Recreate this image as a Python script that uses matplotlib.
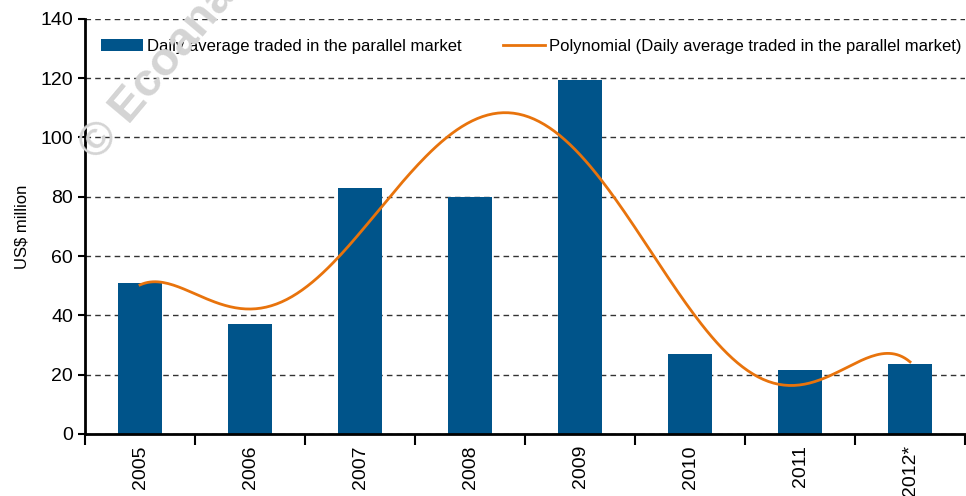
import numpy as np
import matplotlib
matplotlib.use('Agg')
import matplotlib.pyplot as plt

plt.rcParams['font.family'] = ['Liberation Sans', 'DejaVu Sans']

# Data
years = ['2005', '2006', '2007', '2008', '2009', '2010', '2011', '2012*']
dailyAverage = [51.0, 37.1, 83.0, 80.0, 119.4, 27.0, 21.6, 23.6]

BAR_COLOR = '#00548A'
LINE_COLOR = '#E8730C'

fig = plt.figure(figsize=(9.66, 4.96), dpi=100)
ax = fig.add_axes([0.088, 0.125, 0.911, 0.837])

# watermark
fig.text(0.075, 0.68, '© Ecoanalitica', rotation=50, fontsize=34,
         fontweight='bold', color='#D4D4D4', zorder=0)
ax.patch.set_alpha(0)

pos = np.arange(len(years))
bars = ax.bar(pos, dailyAverage, width=0.4, color=BAR_COLOR, zorder=2,
              label='Daily average traded in the parallel market')

# Excel style polynomial trendline (order 6) of the bar values
coef = np.polyfit(pos, dailyAverage, 6)
xs = np.linspace(pos[0], pos[-1], 300)
line, = ax.plot(xs, np.polyval(coef, xs), color=LINE_COLOR, lw=2, zorder=3,
                label='Polynomial (Daily average traded in the parallel market)')

ax.set_xlim(-0.5, len(years) - 0.5)
ax.set_ylim(0, 140)
ax.set_yticks(range(0, 141, 20))
ax.grid(axis='y', linestyle=(0, (4, 3)), color='#333333', lw=1, zorder=1)

ax.set_xticks(pos)
ax.set_xticklabels(years, rotation=90, fontsize=14)
ax.set_xticks(np.arange(-0.5, len(years)), minor=True)
ax.tick_params(axis='x', which='major', length=0, pad=8)
ax.tick_params(axis='x', which='minor', length=8, width=1.5)
ax.tick_params(axis='y', labelsize=14, length=5, width=1.5)

for side in ['top', 'right']:
    ax.spines[side].set_visible(False)
for side in ['left', 'bottom']:
    ax.spines[side].set_linewidth(2)

ax.set_ylabel('US$ million', fontsize=12, labelpad=8)

ax.legend([bars, line], [bars.get_label(), line.get_label()],
          loc='center left', ncol=2, frameon=False, fontsize=12,
          bbox_to_anchor=(0.018, 0.933), borderaxespad=0, borderpad=0,
          handlelength=2.5, columnspacing=2.5, handletextpad=0.25)

fig.savefig('out.png', dpi=100)
